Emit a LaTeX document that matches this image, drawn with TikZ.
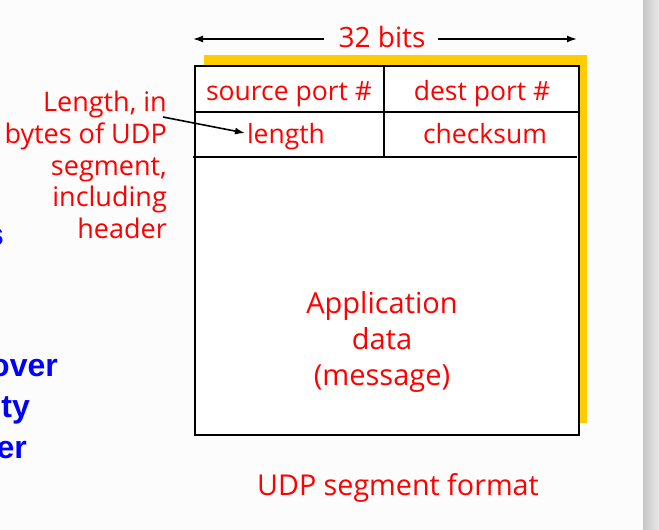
\documentclass[tikz,border=0pt]{standalone}
\usepackage{fontspec}
\usetikzlibrary{arrows.meta}
\setmainfont{Open Sans}
\newfontfamily\bluefont{Liberation Sans}
\definecolor{udpred}{HTML}{FF0000}
\definecolor{udpyellow}{HTML}{FFCC00}
\definecolor{udpblue}{HTML}{0000FF}
\begin{document}
\begin{tikzpicture}[x=1pt,y=-1pt,
  lbl/.style={text=udpred,font=\fontsize{26.5}{30}\selectfont,inner sep=0pt},
  bluetxt/.style={text=udpblue,font=\bluefont\bfseries\fontsize{32}{34}\selectfont,inner sep=0pt,anchor=base east},
  frame/.style={line width=2.8pt,draw=black},
  arr/.style={-{Latex[length=10pt,width=7pt]},line width=1.6pt,draw=black}]
\useasboundingbox (0,0) rectangle (659,530);
\fill[white!99!black] (0,0) rectangle (659,530);
\shade[left color=black!22,right color=black!9] (643,0) rectangle (659,530);
% clipped blue text from the slide
\begin{scope}
\clip (0,0) rectangle (643,530);
\node[bluetxt] (b1) at (4,245) {s};
\node[bluetxt] (b2) at (58,376) {over};
\node[bluetxt] (b3) at (30,417) {ty};
\node[bluetxt] (b4) at (27,458) {er};
\end{scope}
% shadow and frame
\fill[udpyellow] (204,55) rectangle (587,423);
\fill[white] (195,66) rectangle (579,435);
\draw[frame] (195,66) rectangle (579,435);
\draw[frame] (195,112) -- (579,112);
\draw[frame] (193,157) -- (577,157);
\draw[frame] (384,66) -- (384,157);
% width arrow
\node[lbl,anchor=base,font=\fontsize{28}{30}\selectfont] (bits) at (382,47) {32 bits};
\coordinate (la) at (193,39);
\coordinate (ra) at (577,39);
\draw[arr] (bits.west |- la) ++(-14,0) -- (la);
\draw[arr] (bits.east |- ra) ++(12,0) -- (ra);
% fields
\node[lbl,anchor=base] (src) at (289,100) {source port \#};
\node[lbl,anchor=base] (dst) at (482,100) {dest port \#};
\node[lbl,anchor=base] (len) at (286,143) {length};
\node[lbl,anchor=base] (chk) at (485,143) {checksum};
\node[lbl,align=center,font=\fontsize{29}{36}\selectfont] (data) at (382,342) {Application\\data\\(message)};
\node[lbl,anchor=base,font=\fontsize{28.7}{31}\selectfont] (cap) at (398,495) {UDP segment format};
% annotation
\node[lbl,align=right,anchor=north east,font=\fontsize{27}{31.7}\selectfont] (note) at (167,91) {Length, in\\bytes of UDP\\segment,\\including\\header};
\coordinate (ns) at (163,117);
\coordinate (lt) at (245,133);
\draw[arr] (ns) -- (lt);
\end{tikzpicture}
\end{document}
